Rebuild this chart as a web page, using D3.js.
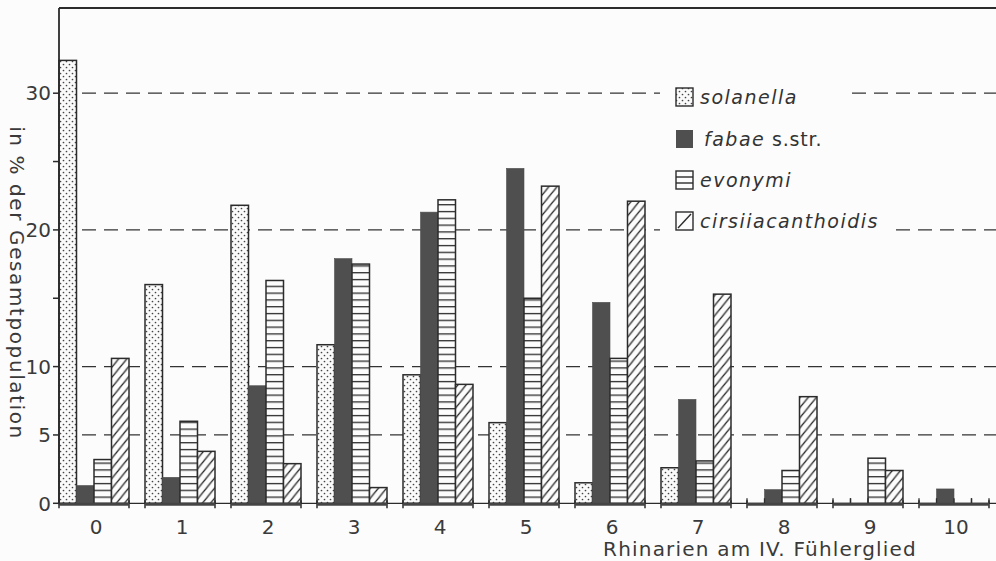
<!DOCTYPE html>
<html>
<head>
<meta charset="utf-8">
<script src="https://cdn.jsdelivr.net/npm/d3@7"></script>
<style>
  body { margin: 0; background: #fcfcfc; }
  svg { display: block; font-family: 'DejaVu Sans', sans-serif; }
  .tick-label { font-size: 20px; fill: #3a3a3a; }
  .legend-label { font-size: 19px; fill: #333; font-style: italic; letter-spacing: 1.5px; }
</style>
</head>
<body>
<div id="chart"></div>
<script>
// Rhinarien count on the 4th antennal segment
const categories = ['0', '1', '2', '3', '4', '5', '6', '7', '8', '9', '10'];
const seriesNames = ['solanella', 'fabae', 'evonymi', 'cirsiiacanthoidis'];

// percentage of total population
const solanella = [32.4, 16.0, 21.8, 11.6, 9.4, 5.9, 1.5, 2.6, 0, 0, 0];
const fabae = [1.3, 1.9, 8.6, 17.9, 21.3, 24.5, 14.7, 7.6, 1.0, 0, 1.05];
const evonymi = [3.2, 6.0, 16.3, 17.5, 22.2, 15.0, 10.6, 3.1, 2.4, 3.3, 0];
const cirsiiacanthoidis = [10.6, 3.8, 2.9, 1.15, 8.7, 23.2, 22.1, 15.3, 7.8, 2.4, 0];

const yTicks = [0, 5, 10, 15, 20, 25, 30];
const yTickLabels = [0, 5, 10, 20, 30];
const gridValues = [5, 10, 20, 30];

const width = 996;
const height = 561;
const ink = '#2b2b2b';

const svg = d3.select('#chart').append('svg')
  .attr('width', width)
  .attr('height', height);

svg.append('rect').attr('width', width).attr('height', height).attr('fill', '#fcfcfc');

// Scales
const y = d3.scaleLinear().domain([0, 30]).range([503.3, 93.2]);
const x0 = d3.scaleBand().domain(categories).range([59, 989]).paddingInner(16 / 86).paddingOuter(0).align(0);
const x1 = d3.scaleBand().domain(seriesNames).range([0, x0.bandwidth()]).padding(0);
const baseY = y(0);

// Patterns
const defs = svg.append('defs');
const dots = defs.append('pattern').attr('id', 'dots')
  .attr('patternUnits', 'userSpaceOnUse').attr('width', 6).attr('height', 6);
dots.append('rect').attr('width', 6).attr('height', 6).attr('fill', '#fafafa');
dots.append('circle').attr('cx', 1.5).attr('cy', 1.5).attr('r', 0.85).attr('fill', '#444');
dots.append('circle').attr('cx', 4.5).attr('cy', 4.5).attr('r', 0.85).attr('fill', '#444');

const hlines = defs.append('pattern').attr('id', 'hlines')
  .attr('patternUnits', 'userSpaceOnUse').attr('width', 10).attr('height', 6.8)
  .attr('patternTransform', 'translate(0,' + baseY + ')');
hlines.append('rect').attr('width', 10).attr('height', 6.8).attr('fill', '#fcfcfc');
hlines.append('line').attr('x1', 0).attr('x2', 10).attr('y1', 0.6).attr('y2', 0.6)
  .attr('stroke', ink).attr('stroke-width', 1.4);

const diag = defs.append('pattern').attr('id', 'diag')
  .attr('patternUnits', 'userSpaceOnUse').attr('width', 9).attr('height', 9)
  .attr('patternTransform', 'translate(0,' + baseY + ') rotate(-6)');
diag.append('rect').attr('width', 9).attr('height', 9).attr('fill', '#fcfcfc');
diag.append('path').attr('d', 'M-1,1 L1,-1 M0,9 L9,0 M8,10 L10,8')
  .attr('stroke', ink).attr('stroke-width', 1.3);

const fills = {
  solanella: 'url(#dots)',
  fabae: '#4f4f4f',
  evonymi: 'url(#hlines)',
  cirsiiacanthoidis: 'url(#diag)'
};
const dataBySeries = { solanella, fabae, evonymi, cirsiiacanthoidis };

// Top frame line
svg.append('line').attr('x1', 59).attr('x2', width).attr('y1', 8).attr('y2', 8)
  .attr('stroke', ink).attr('stroke-width', 1.8);

// Dashed grid lines
svg.selectAll('.grid').data(gridValues).enter()
  .append('line')
  .attr('class', 'grid')
  .attr('x1', 60).attr('x2', width)
  .attr('y1', (d) => y(d)).attr('y2', (d) => y(d))
  .attr('stroke', '#333').attr('stroke-width', 1.3)
  .attr('stroke-dasharray', '14,8');

// Baseline across the full width
svg.append('line').attr('x1', 59).attr('x2', width).attr('y1', baseY).attr('y2', baseY)
  .attr('stroke', ink).attr('stroke-width', 1.2);

// Bars
const rows = categories.map((c, i) => ({
  cat: c,
  values: seriesNames.map((s) => ({ key: s, value: dataBySeries[s][i] }))
}));

const groups = svg.selectAll('.group').data(rows).enter()
  .append('g')
  .attr('class', 'group')
  .attr('transform', (d) => 'translate(' + x0(d.cat) + ',0)');

groups.selectAll('.bar')
  .data((d) => d.values.filter((v) => v.value > 0))
  .enter()
  .append('rect')
  .attr('class', 'bar')
  .attr('x', (v) => x1(v.key))
  .attr('y', (v) => y(v.value))
  .attr('width', x1.bandwidth())
  .attr('height', (v) => baseY - y(v.value))
  .attr('fill', (v) => fills[v.key])
  .attr('stroke', (v) => v.key === 'fabae' ? '#4f4f4f' : ink)
  .attr('stroke-width', (v) => v.key === 'fabae' ? 0.6 : 1.5);

// Zero bars: only their edges show as little ticks on the baseline
groups.selectAll('.zero-tick')
  .data((d) => d.values.filter((v) => v.value === 0))
  .enter()
  .append('path')
  .attr('class', 'zero-tick')
  .attr('d', (v) => {
    const a = x1(v.key);
    const b = a + x1.bandwidth();
    return 'M' + a + ',' + (baseY - 5) + 'V' + baseY + 'M' + b + ',' + (baseY - 5) + 'V' + baseY;
  })
  .attr('stroke', ink).attr('stroke-width', 1.3);

// Group bracket on the baseline
groups.append('path')
  .attr('d', 'M0,' + (baseY - 3) + 'V' + (baseY + 5) + 'M' + x0.bandwidth() + ',' + (baseY - 3) + 'V' + (baseY + 5))
  .attr('stroke', ink).attr('stroke-width', 1.5);
groups.append('line')
  .attr('x1', 0).attr('x2', x0.bandwidth())
  .attr('y1', baseY + 1).attr('y2', baseY + 1)
  .attr('stroke', '#444').attr('stroke-width', 3);

// Y axis
const yAxis = svg.append('g').attr('transform', 'translate(59,0)');
yAxis.append('line').attr('y1', 8).attr('y2', baseY + 1)
  .attr('stroke', ink).attr('stroke-width', 1.8);
yAxis.selectAll('.ytick').data(yTicks).enter()
  .append('line')
  .attr('x1', -6).attr('x2', 0)
  .attr('y1', (d) => y(d)).attr('y2', (d) => y(d))
  .attr('stroke', ink).attr('stroke-width', 1.5);
yAxis.selectAll('.ylabel').data(yTickLabels).enter()
  .append('text')
  .attr('class', 'tick-label')
  .attr('x', -8)
  .attr('y', (d) => y(d))
  .attr('dy', '0.36em')
  .attr('text-anchor', 'end')
  .text((d) => d);

// X tick labels
svg.selectAll('.xlabel').data(categories).enter()
  .append('text')
  .attr('class', 'tick-label')
  .attr('x', (d) => x0(d) + x0.bandwidth() / 2 + 2)
  .attr('y', 534)
  .attr('text-anchor', 'middle')
  .text((d) => d);

// Axis titles
svg.append('text')
  .attr('class', 'tick-label')
  .attr('x', 760).attr('y', 556)
  .attr('text-anchor', 'middle')
  .style('letter-spacing', '1.2px')
  .text('Rhinarien am IV. Fühlerglied');

svg.append('text')
  .attr('class', 'tick-label')
  .attr('transform', 'translate(10,283) rotate(90)')
  .attr('text-anchor', 'middle')
  .style('letter-spacing', '1.6px')
  .text('in % der Gesamtpopulation');

// Legend
const legendRows = [
  { key: 'solanella', label: 'solanella', y: 97, pad: 52 },
  { key: 'fabae', label: 'fabae', extra: ' s.str.', y: 139, pad: 14 },
  { key: 'evonymi', label: 'evonymi', y: 180, pad: 14 },
  { key: 'cirsiiacanthoidis', label: 'cirsiiacanthoidis', y: 221, pad: 14 }
];

const legend = svg.append('g');
legendRows.forEach((r) => {
  const g = legend.append('g');
  const bg = g.append('rect').attr('fill', '#fcfcfc');
  const tx = r.key === 'fabae' ? 704 : 700;
  const t = g.append('text')
    .attr('class', 'legend-label')
    .attr('x', tx)
    .attr('y', r.y)
    .attr('dy', '0.35em')
    .text(r.label);
  if (r.extra) {
    t.append('tspan').style('font-style', 'normal').style('letter-spacing', '0.8px').text(r.extra);
  }
  const tw = t.node().getComputedTextLength();
  bg.attr('x', 660).attr('y', r.y - 14).attr('height', 28)
    .attr('width', tx + tw - 660 + r.pad);

  const bx = 676, bw = 17, by = r.y - 9, bh = 18;
  if (r.key === 'fabae') {
    g.append('rect').attr('x', bx).attr('y', by).attr('width', bw).attr('height', bh)
      .attr('fill', fills.fabae);
  } else {
    g.append('rect').attr('x', bx).attr('y', by).attr('width', bw).attr('height', bh)
      .attr('fill', r.key === 'solanella' ? 'url(#dots)' : '#fcfcfc')
      .attr('stroke', ink).attr('stroke-width', 1.4);
    if (r.key === 'evonymi') {
      [1, 2].forEach((k) => {
        g.append('line').attr('x1', bx).attr('x2', bx + bw)
          .attr('y1', by + bh * k / 3).attr('y2', by + bh * k / 3)
          .attr('stroke', ink).attr('stroke-width', 1.4);
      });
    }
    if (r.key === 'cirsiiacanthoidis') {
      g.append('line').attr('x1', bx + 2).attr('y1', by + bh - 2)
        .attr('x2', bx + bw - 2).attr('y2', by + 2)
        .attr('stroke', ink).attr('stroke-width', 1.4);
    }
  }
});
</script>
</body>
</html>
